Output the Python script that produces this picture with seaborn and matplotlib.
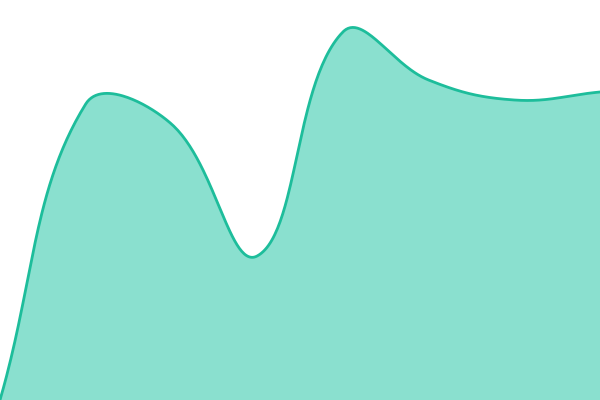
import numpy as np
import pandas as pd
import matplotlib
matplotlib.use("Agg")
import matplotlib.pyplot as plt
import seaborn as sns

# values (0-100 scale), evenly spaced points
positions = [0, 1, 2, 3, 4, 5, 6, 7]
values = [0, 74, 69, 36, 92, 80, 75, 77]

line_color = "#1dbd9b"
fill_color = "#8ae0cf"
tension = 0.4

W, H = 600, 400
sx = W / (len(positions) - 1)   # px per x unit
sy = H / 100                    # px per y unit


def spline_curve(xs, ys, t):
    """Chart.js-style cubic bezier smoothing, returns dense x/y in data units."""
    px = np.array(xs, float) * sx
    py = np.array(ys, float) * sy
    n = len(px)
    c_prev = np.zeros((n, 2))
    c_next = np.zeros((n, 2))
    for i in range(n):
        p0 = (px[max(i - 1, 0)], py[max(i - 1, 0)])
        p1 = (px[i], py[i])
        p2 = (px[min(i + 1, n - 1)], py[min(i + 1, n - 1)])
        d01 = np.hypot(p1[0] - p0[0], p1[1] - p0[1])
        d12 = np.hypot(p2[0] - p1[0], p2[1] - p1[1])
        tot = d01 + d12
        s01 = d01 / tot if tot else 0
        s12 = d12 / tot if tot else 0
        fa, fb = t * s01, t * s12
        c_prev[i] = (p1[0] - fa * (p2[0] - p0[0]), p1[1] - fa * (p2[1] - p0[1]))
        c_next[i] = (p1[0] + fb * (p2[0] - p0[0]), p1[1] + fb * (p2[1] - p0[1]))
    # keep control points inside the chart area
    c_prev[:, 1] = np.clip(c_prev[:, 1], 0, H)
    c_next[:, 1] = np.clip(c_next[:, 1], 0, H)

    u = np.linspace(0, 1, 60)[:, None]
    segs = []
    for i in range(n - 1):
        a = np.array([px[i], py[i]])
        b = c_next[i]
        c = c_prev[i + 1]
        d = np.array([px[i + 1], py[i + 1]])
        pts = (1 - u) ** 3 * a + 3 * (1 - u) ** 2 * u * b + 3 * (1 - u) * u ** 2 * c + u ** 3 * d
        segs.append(pts if i == 0 else pts[1:])
    pts = np.vstack(segs)
    return pts[:, 0] / sx, pts[:, 1] / sy


cx, cy = spline_curve(positions, values, tension)
curve = pd.DataFrame({"x": cx, "y": cy})

sns.set_theme(style="white")
fig = plt.figure(figsize=(6, 4), dpi=100)
ax = fig.add_axes([0, 0, 1, 1])

ax.fill_between(curve["x"], 0, curve["y"], color=fill_color, linewidth=0)
sns.lineplot(data=curve, x="x", y="y", sort=False, color=line_color,
             linewidth=2.0, ax=ax, estimator=None)

ax.set_xlim(positions[0], positions[-1])
ax.set_ylim(0, 100)
ax.set_axis_off()

fig.savefig("out.png", dpi=100)
